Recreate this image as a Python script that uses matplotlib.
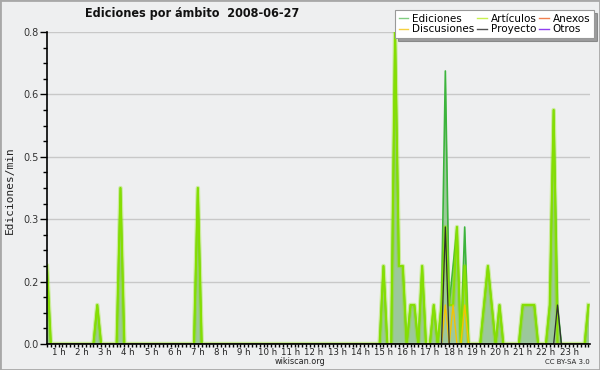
import matplotlib
matplotlib.use("Agg")
import matplotlib.pyplot as plt
import numpy as np
from matplotlib.lines import Line2D
from matplotlib.patches import Rectangle

# ---- data (10-minute bins, values in edits/min); unlisted bins are 0 ----
bin_start = "00:30"
bin_end = "23:50"

ediciones_times = ["00:30", "02:40", "03:40", "07:00", "15:00", "15:30", "15:40", "15:50",
                   "16:10", "16:20", "16:40", "17:10", "17:30", "17:40", "17:50", "18:00",
                   "18:10", "18:30", "19:20", "19:30", "19:40", "20:00", "21:00", "21:10",
                   "21:20", "21:30", "22:10", "22:20", "22:30", "23:50"]
ediciones_values = [0.2, 0.1, 0.4, 0.4, 0.2, 0.8, 0.2, 0.2,
                    0.1, 0.1, 0.2, 0.1, 0.1, 0.7, 0.1, 0.2,
                    0.3, 0.3, 0.1, 0.2, 0.1, 0.1, 0.1, 0.1,
                    0.1, 0.1, 0.1, 0.6, 0.1, 0.1]

articulos_times = ["00:30", "02:40", "03:40", "07:00", "15:00", "15:30", "15:40", "15:50",
                   "16:10", "16:20", "16:40", "17:10", "17:30", "17:40", "17:50", "18:00",
                   "18:10", "18:30", "19:20", "19:30", "19:40", "20:00", "21:00", "21:10",
                   "21:20", "21:30", "22:10", "22:20", "23:50"]
articulos_values = [0.2, 0.1, 0.4, 0.4, 0.2, 0.8, 0.2, 0.2,
                    0.1, 0.1, 0.2, 0.1, 0.1, 0.3, 0.1, 0.1,
                    0.3, 0.2, 0.1, 0.2, 0.1, 0.1, 0.1, 0.1,
                    0.1, 0.1, 0.1, 0.6, 0.1]

discusiones_times = ["17:40", "18:00", "18:30"]
discusiones_values = [0.1, 0.1, 0.1]

proyecto_times = ["17:40", "22:30"]
proyecto_values = [0.3, 0.1]

anexos_times = []
anexos_values = []
otros_times = []
otros_values = []

hour_labels = [f"{h} h" for h in range(1, 24)]
title = "Ediciones por ámbito  2008-06-27"
ylabel = "Ediciones/min"


def to_h(t):
    hh, mm = t.split(":")
    return int(hh) + int(mm) / 60.0


x = np.arange(round(to_h(bin_start) * 6), round(to_h(bin_end) * 6) + 1) / 6.0


def series(times, values):
    y = np.zeros_like(x)
    for t, v in zip(times, values):
        y[np.argmin(np.abs(x - to_h(t)))] = v
    return y


ed = series(ediciones_times, ediciones_values)
ar = series(articulos_times, articulos_values)
di = series(discusiones_times, discusiones_values)
pr = series(proyecto_times, proyecto_values)
an = series(anexos_times, anexos_values)
ot = series(otros_times, otros_values)

bg = "#eeeff0"
fig = plt.figure(figsize=(6, 3.7), dpi=100, facecolor=bg)
ax = fig.add_axes([47 / 600, 1 - 344 / 370, (590 - 47) / 600, (344 - 32) / 370])
ax.set_facecolor(bg)

ax.fill_between(x, 0, ed, color="#9cc89a", lw=0, zorder=2)
ax.plot(x, ed, color="#3cb43c", lw=1.2, zorder=3)
ax.plot(x, ar, color="#8ae400", lw=3.2, alpha=0.35, zorder=4,
        solid_joinstyle="round")
ax.plot(x, ar, color="#88e000", lw=1.5, alpha=0.95, zorder=4,
        solid_joinstyle="round")
ax.plot(x, an, color="#f08040", lw=1.0, zorder=5)
ax.plot(x, di, color="#f5c400", lw=1.0, zorder=5)
ax.plot(x, pr, color="#303030", lw=0.9, zorder=6)
ax.plot(x, ot, color="#9040f0", lw=1.0, zorder=5)

ax.set_xlim(0.5, 23.9)
ax.set_ylim(0, 0.8)

yt = np.arange(0, 0.81, 0.16)
ax.set_yticks(yt)
ax.set_yticklabels([f"{v:.1f}" for v in yt])
ax.set_yticks(np.arange(0, 0.81, 0.04), minor=True)
ax.set_xticks(range(1, 24))
ax.set_xticklabels(hour_labels)
ax.set_xticks(np.arange(0.5, 23.95, 1 / 6), minor=True)

ax.grid(axis="y", which="major", color="#c8c8c8", lw=1.0, zorder=1)
ax.set_axisbelow(True)
for s in ["top", "right"]:
    ax.spines[s].set_visible(False)
for s in ["left", "bottom"]:
    ax.spines[s].set_color("black")
    ax.spines[s].set_linewidth(1.2)
    ax.spines[s].set_zorder(10)

ax.tick_params(axis="y", which="major", length=5, width=1, labelsize=7,
               labelcolor="#333333", pad=1)
ax.tick_params(axis="y", which="minor", length=3, width=1)
ax.tick_params(axis="x", which="both", length=2.4, width=1, labelsize=6.8,
               labelcolor="#222222", pad=0.6)
for lab in ax.get_xticklabels():
    lab.set_fontstretch("condensed")

fig.text(10 / 600, 1 - 190 / 370, ylabel, rotation=90, va="center", ha="center",
         fontsize=8, family="DejaVu Sans Mono", color="#222222")
fig.text(85 / 600, 1 - 14 / 370, title, ha="left", va="center",
         fontsize=9, fontweight="bold", fontstretch="condensed", color="#111111")
fig.text(300 / 600, 1 - 362 / 370, "wikiscan.org", ha="center", va="center",
         fontsize=6.5, fontstretch="condensed", color="#222222")
fig.text(590 / 600, 1 - 362 / 370, "CC BY-SA 3.0", ha="right", va="center",
         fontsize=5, color="#222222")

handles = [
    Line2D([], [], color="#80cc80", lw=1),
    Line2D([], [], color="#f5d040", lw=1),
    Line2D([], [], color="#c8f050", lw=1),
    Line2D([], [], color="#505050", lw=1),
    Line2D([], [], color="#f08050", lw=1),
    Line2D([], [], color="#9040f0", lw=1),
]
labels = ["Ediciones", "Discusiones", "Artículos", "Proyecto", "Anexos", "Otros"]
leg = fig.legend(handles, labels, ncol=3, loc="upper right",
                 bbox_to_anchor=(594 / 600, 1 - 10 / 370), fontsize=7.5,
                 frameon=True, fancybox=False, shadow=True, handlelength=0.9,
                 handletextpad=0.4, columnspacing=0.25, labelspacing=0.05,
                 borderpad=0.35, borderaxespad=0)
leg.get_frame().set_edgecolor("#999999")
leg.get_frame().set_facecolor("white")
leg.get_frame().set_linewidth(0.8)

fig.patches.append(Rectangle((0, 0), 1, 1, transform=fig.transFigure, fill=False,
                             edgecolor="#a8a8a8", lw=2))

fig.savefig("out.png", dpi=100, facecolor=bg)
